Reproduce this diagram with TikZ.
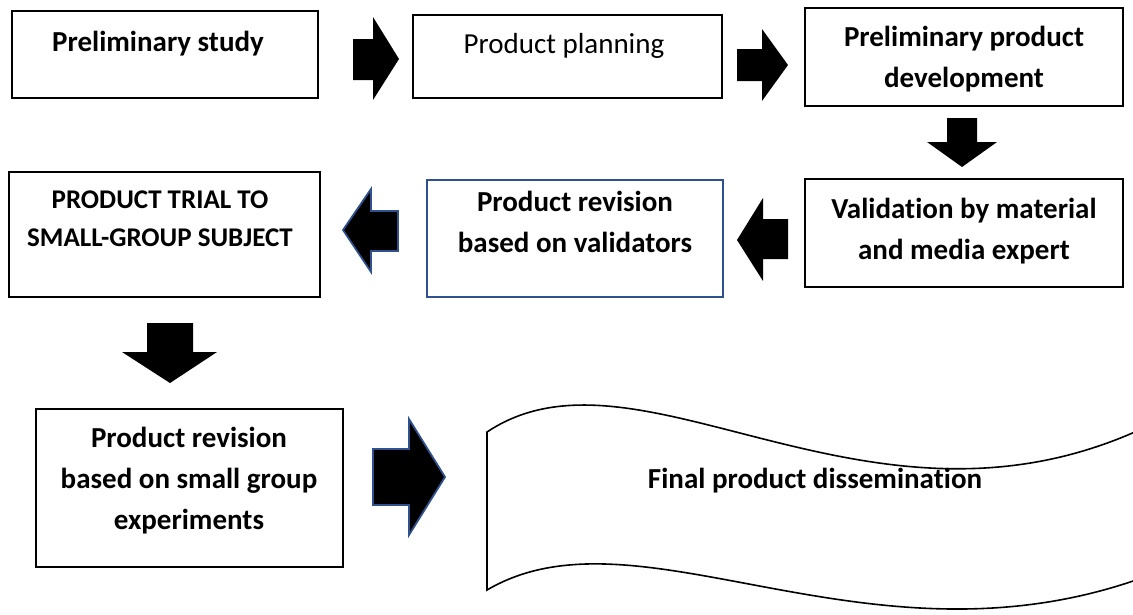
\documentclass[tikz,border=0pt]{standalone}
\usepackage{fontspec}
\setmainfont{Carlito}[Ligatures=NoCommon]
\definecolor{bblue}{RGB}{47,82,143}
\tikzset{
  box/.style={draw=black, line width=1.3pt, fill=white},
  bluebox/.style={draw=bblue, line width=1.6pt, fill=white},
  lbl/.style={align=center, font=\bfseries\fontsize{29}{41}\selectfont, inner sep=0pt},
  lblsmall/.style={align=center, font=\bfseries\fontsize{27}{38}\selectfont, inner sep=0pt},
  blk/.style={fill=black, draw=none},
  blkblue/.style={fill=black, draw=bblue, line width=1.8pt, line join=miter},
  wave/.style={draw=black, line width=1.6pt, fill=white}
}
\begin{document}
\begin{tikzpicture}[x=1pt,y=-1pt]
\useasboundingbox (0,0) rectangle (1133,614);
\fill[white] (0,0) rectangle (1133,614);
\clip (0,0) rectangle (1133,614);

% boxes
\draw[box] (12,11) rectangle (318,98);
\draw[box] (413,15) rectangle (722,98);
\draw[box] (805,8) rectangle (1123,106);
\draw[box] (805,179) rectangle (1123,287);
\draw[bluebox] (427,180) rectangle (723,297);
\draw[box] (9,172) rectangle (320,297);
\draw[box] (36,409) rectangle (343,567);

% wave
\draw[wave] (487,432) .. controls (640,330) and (870,560) .. (1150,425)
  -- (1150,575) .. controls (870,680) and (640,500) .. (487,590) -- cycle;

% texts
\node[lbl] (t1) at (158,44) {Preliminary study};
\node[lbl, font=\fontsize{29}{41}\selectfont] (t2) at (564,46) {Product planning};
\node[lbl] (t3) at (964,59) {Preliminary product\\development};
\node[lbl] (t4) at (964,231) {Validation by material\\and media expert};
\node[lbl] (t5) at (575,222) {Product revision\\based on validators};
\node[lblsmall] (t6) at (160,219) {PRODUCT TRIAL TO\\SMALL-GROUP SUBJECT};
\node[lbl] (t7) at (189,481) {Product revision\\based on small group\\experiments};
\node[lbl] (t8) at (815,481) {Final product dissemination};

% block arrows
% 1: right
\fill[blk] (353,39) -- (373,39) -- (373,17) -- (399,59) -- (373,100) -- (373,80) -- (353,80) -- cycle;
% 2: right
\fill[blk] (737,49) -- (762,49) -- (762,29) -- (788,65) -- (762,101) -- (762,81) -- (737,81) -- cycle;
% 3: down
\fill[blk] (947,118) -- (977,118) -- (977,142) -- (997,142) -- (962,167) -- (927,142) -- (947,142) -- cycle;
% 4: left
\fill[blk] (788,219) -- (763,219) -- (763,198) -- (737,240) -- (763,281) -- (763,259) -- (788,259) -- cycle;
% 5: left, blue outline
\filldraw[blkblue] (398,211) -- (371,211) -- (371,189) -- (343,230) -- (371,272) -- (371,251) -- (398,251) -- cycle;
% 6: down
\fill[blk] (147,323) -- (193,323) -- (193,352) -- (217,352) -- (170,383) -- (122,352) -- (147,352) -- cycle;
% 7: right, blue outline
\filldraw[blkblue] (373,449) -- (409,449) -- (409,419) -- (445,477) -- (409,535) -- (409,505) -- (373,505) -- cycle;
\end{tikzpicture}
\end{document}
